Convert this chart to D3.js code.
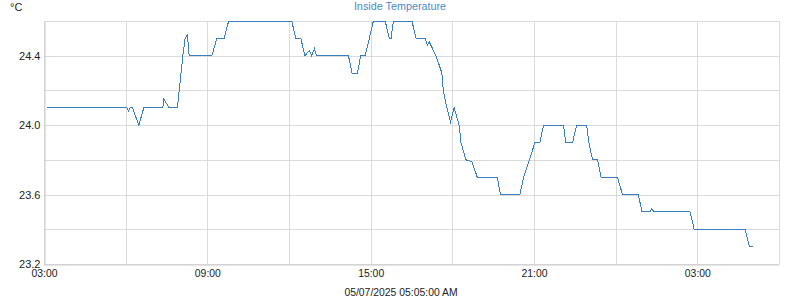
<!DOCTYPE html>
<html>
<head>
<meta charset="utf-8">
<script src="https://cdn.jsdelivr.net/npm/d3@7"></script>
<style>
  body { margin: 0; background: #fff; }
  svg { font-family: "Liberation Sans", Arial, sans-serif; }
</style>
</head>
<body>
<svg id="chart" width="800" height="300"></svg>
<script>
// readings: local time, degrees C
const times = [
  '05/06 03:07', '05/06 06:03', '05/06 06:06', '05/06 06:10', '05/06 06:15', '05/06 06:29',
  '05/06 06:40', '05/06 07:22', '05/06 07:24', '05/06 07:36', '05/06 07:54', '05/06 07:58',
  '05/06 08:06', '05/06 08:11', '05/06 08:16', '05/06 08:20', '05/06 09:10', '05/06 09:21',
  '05/06 09:37', '05/06 09:47', '05/06 12:06', '05/06 12:15', '05/06 12:26', '05/06 12:35',
  '05/06 12:45', '05/06 12:50', '05/06 12:56', '05/06 13:01', '05/06 14:11', '05/06 14:19',
  '05/06 14:31', '05/06 14:38', '05/06 14:48', '05/06 14:57', '05/06 15:06', '05/06 15:32',
  '05/06 15:41', '05/06 15:45', '05/06 15:50', '05/06 16:31', '05/06 16:40', '05/06 17:00',
  '05/06 17:05', '05/06 17:09', '05/06 17:24', '05/06 17:37', '05/06 17:40', '05/06 17:48',
  '05/06 17:56', '05/06 18:04', '05/06 18:15', '05/06 18:19', '05/06 18:30', '05/06 18:43',
  '05/06 18:55', '05/06 19:39', '05/06 19:46', '05/06 20:29', '05/06 20:37', '05/06 20:50',
  '05/06 21:02', '05/06 21:13', '05/06 21:21', '05/06 22:05', '05/06 22:10', '05/06 22:25',
  '05/06 22:34', '05/06 22:56', '05/06 23:01', '05/06 23:09', '05/06 23:20', '05/06 23:28',
  '05/07 00:04', '05/07 00:15', '05/07 00:50', '05/07 00:58', '05/07 01:16', '05/07 01:19',
  '05/07 01:25', '05/07 02:44', '05/07 02:53', '05/07 04:45', '05/07 04:55', '05/07 05:03'
];
const temps = [
  24.1, 24.1, 24.08, 24.1, 24.1, 24.0,
  24.1, 24.1, 24.15, 24.1, 24.1, 24.2,
  24.4, 24.5, 24.52, 24.4, 24.4, 24.5,
  24.5, 24.6, 24.6, 24.5, 24.5, 24.4,
  24.43, 24.4, 24.44, 24.4, 24.4, 24.3,
  24.3, 24.4, 24.4, 24.5, 24.6, 24.6,
  24.5, 24.5, 24.6, 24.6, 24.5, 24.5,
  24.46, 24.48, 24.4, 24.3, 24.2, 24.1,
  24.02, 24.1, 24.0, 23.9, 23.8, 23.79,
  23.7, 23.7, 23.6, 23.6, 23.7, 23.8,
  23.9, 23.9, 24.0, 24.0, 23.9, 23.9,
  24.0, 24.0, 23.9, 23.8, 23.8, 23.7,
  23.7, 23.6, 23.6, 23.5, 23.5, 23.52,
  23.5, 23.5, 23.4, 23.4, 23.3, 23.3
];
const xLabelTimes = ['05/06 03:00', '05/06 09:00', '05/06 15:00', '05/06 21:00', '05/07 03:00'];
const xGridTimes = ['05/06 03:00', '05/06 06:00', '05/06 09:00', '05/06 12:00', '05/06 15:00',
  '05/06 18:00', '05/06 21:00', '05/07 00:00', '05/07 03:00', '05/07 06:00'];
const yLabels = [23.2, 23.6, 24.0, 24.4];
const yGrid = [23.2, 23.4, 23.6, 23.8, 24.0, 24.2, 24.4, 24.6];
const title = 'Inside Temperature';
const unit = '°C';
const stamp = '05/07/2025 05:05:00 AM';

const parse = d3.timeParse('%Y/%m/%d %H:%M');
const toDate = t => parse('2025/' + t);
const data = times.map((t, i) => ({date: toDate(t), value: temps[i]}));

const svg = d3.select('#chart');
const plotLeft = 44, plotRight = 779, plotTop = 21, plotBottom = 264;

const x = d3.scaleTime()
  .domain([toDate('05/06 03:00'), toDate('05/07 06:00')])
  .range([plotLeft, plotRight]);
const y = d3.scaleLinear()
  .domain([23.2, 24.6])
  .range([plotBottom, plotTop]);

// grid
svg.append('g')
  .selectAll('line')
  .data(yGrid)
  .enter()
  .append('line')
  .attr('x1', plotLeft).attr('x2', plotRight)
  .attr('y1', d => Math.round(y(d)) + 0.5)
  .attr('y2', d => Math.round(y(d)) + 0.5)
  .attr('stroke', '#dadada');

svg.append('g')
  .selectAll('line')
  .data(xGridTimes.map(toDate))
  .enter()
  .append('line')
  .attr('x1', d => Math.round(x(d)) + 0.5)
  .attr('x2', d => Math.round(x(d)) + 0.5)
  .attr('y1', plotTop).attr('y2', plotBottom)
  .attr('stroke', '#dadada');

// X axis
const xAxis = svg.append('g')
  .attr('transform', 'translate(0,' + (Math.round(plotBottom) + 0.5) + ')')
  .call(d3.axisBottom(x)
    .tickValues(xLabelTimes.map(toDate))
    .tickFormat(d3.timeFormat('%H:%M'))
    .tickSize(0)
    .tickPadding(5));
xAxis.select('.domain').attr('stroke', '#cccccc');
xAxis.selectAll('text').attr('font-size', 10.4).attr('fill', '#222')
  .attr('font-family', '"Liberation Sans", Arial, sans-serif');

// Y axis
const yAxis = svg.append('g')
  .attr('transform', 'translate(' + (plotLeft + 0.5) + ',0)')
  .call(d3.axisLeft(y)
    .tickValues(yLabels)
    .tickFormat(d3.format('.1f'))
    .tickSize(0)
    .tickPadding(4));
yAxis.select('.domain').attr('stroke', '#cccccc');
yAxis.selectAll('text').attr('font-size', 11).attr('fill', '#222')
  .attr('font-family', '"Liberation Sans", Arial, sans-serif');

// line
const line = d3.line()
  .x(d => x(d.date))
  .y(d => y(d.value));

svg.append('path')
  .datum(data)
  .attr('fill', 'none')
  .attr('stroke', '#3a7ebf')
  .attr('stroke-width', 1)
  .attr('shape-rendering', 'crispEdges')
  .attr('d', line);

// labels
svg.append('text')
  .attr('x', 400).attr('y', 10)
  .attr('text-anchor', 'middle')
  .attr('font-size', 10.8)
  .attr('fill', '#4a8bc8')
  .text(title);

svg.append('text')
  .attr('x', 10).attr('y', 11)
  .attr('font-size', 11)
  .attr('fill', '#222')
  .text(unit);

svg.append('text')
  .attr('x', 401).attr('y', 296)
  .attr('text-anchor', 'middle')
  .attr('font-size', 10.4)
  .attr('fill', '#222')
  .text(stamp);
</script>
</body>
</html>
